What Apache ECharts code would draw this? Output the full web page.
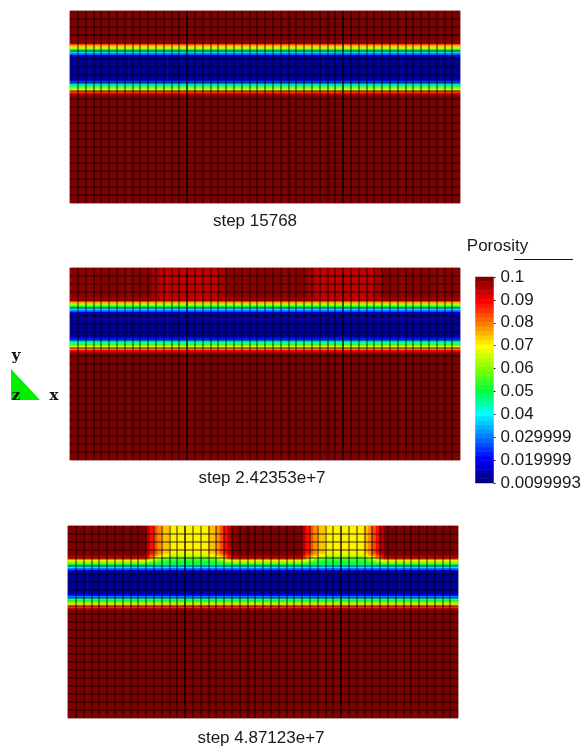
<!DOCTYPE html>
<html><head><meta charset="utf-8">
<style>html,body{margin:0;padding:0;background:#fff}#main{width:582px;height:747px;filter:blur(0.6px)}</style>
<script src="https://cdn.jsdelivr.net/npm/echarts@6/dist/echarts.min.js"></script>
</head><body><div id="main"></div>
<script>
const stepTitles = ['step 15768', 'step 2.42353e+7', 'step 4.87123e+7'];
const colorbarTitle = 'Porosity';
const tickLabels = ['0.0099993','0.019999','0.029999','0.04','0.05','0.06','0.07','0.08','0.09','0.1'];
const heavyColumns = [15, 35];
const colorStops = ['#00007f','#0000ff','#007fff','#00ffff','#00ff40','#80ff00','#ffff00','#ff8000','#ff0000','#7f0000'];
const colorbarLevels = [.01,.012,.014,.016,.018,.02,.022,.024,.026,.028,.03,.032,.034,.036,.038,.04,.042,.044,.046,.048,.05,.052,.054,.056,.058,.06,.062,.064,.066,.068,.07,.072,.074,.076,.078,.08,.082,.084,.086,.088,.09,.092,.094,.096,.098,.1];

// rows are read top to bottom, each one quarter of a mesh cell high
const farField = [.1,.1,.1,.1,.1,.1,.1,.1,.1,.1,.1,.1,.1,.1,.1,.1,.1,.1,.1,.1,.1,.1,.1,.1,.1,.1,.1,.1,.1,.1,.1,.1,.1,.1,.1,.1,.1,.1,.1,.1,.1,.1,.1,.1,.1,.1,.1,.1,.1,.1,.1,.1,.1];

const step1Rows = [.1,.1,.1,.1,.1,.1,.1,.1,.1,.1,.1,.1,.1,.1,.1,.097,.088,.076,.065,.053,.042,.03,.018,.012,.012,.012,.012,.012,.012,.012,.012,.012,.012,.012,.014,.024,.037,.048,.06,.072,.083,.094,.1];
const step2Rows = [.099,.099,.099,.099,.099,.099,.099,.099,.099,.099,.099,.099,.099,.099,.099,.096,.09,.076,.063,.05,.04,.03,.018,.012,.012,.012,.012,.012,.012,.012,.012,.012,.012,.012,.013,.022,.035,.044,.054,.067,.078,.09,.097];
const step2EdgeRows = [.097,.097,.097,.097,.097,.097,.097,.097,.097,.097,.097,.097,.097,.097,.097,.095,.089,.076,.063,.05,.04,.03,.018,.012,.012,.012,.012,.012,.012,.012,.012,.012,.012,.012,.013,.022,.035,.044,.054,.067,.078,.09,.097];
const step2HumpRows = [.095,.095,.095,.095,.095,.095,.095,.095,.095,.095,.095,.095,.095,.095,.095,.094,.088,.076,.063,.05,.04,.03,.018,.012,.012,.012,.012,.012,.012,.012,.012,.012,.012,.012,.013,.022,.035,.044,.054,.067,.078,.09,.097];
const step3Lower = [.012,.012,.012,.012,.012,.012,.012,.012,.012,.012,.013,.018,.03,.04,.05,.062,.074,.085,.095,.1];
const step3Field = [.1,.1,.1,.1,.1,.1,.1,.1,.1,.1,.1,.1,.1,.1,.1,.095,.085,.072,.06,.05,.04,.03,.018];
const step3Dark =  [.095,.095,.095,.095,.095,.095,.095,.095,.095,.095,.095,.095,.095,.095,.093,.088,.08,.069,.058,.049,.04,.03,.018];
const step3Red =   [.089,.089,.089,.089,.089,.089,.089,.089,.089,.089,.089,.089,.089,.089,.086,.08,.074,.066,.056,.048,.04,.03,.018];
const step3Flame = [.084,.084,.084,.084,.084,.084,.084,.084,.084,.084,.084,.084,.084,.084,.08,.075,.069,.062,.054,.047,.04,.03,.018];
const step3Orange =[.079,.079,.079,.079,.079,.079,.079,.079,.079,.079,.079,.079,.079,.079,.076,.07,.064,.058,.052,.047,.04,.03,.018];
const step3Amber = [.075,.075,.075,.075,.075,.075,.075,.075,.075,.075,.075,.075,.075,.075,.071,.066,.06,.055,.05,.046,.04,.03,.018];
const step3Yellow =[.071,.071,.071,.071,.071,.071,.071,.071,.071,.071,.071,.071,.071,.071,.067,.062,.058,.054,.05,.046,.04,.03,.018];

// which row list each half-cell column uses
const step1Columns = [0];
const step2Columns = [0,0,0,0,0,0,0,0,0,0,0,0,0,0,0,0,0,0,0,0,0,1,1,2,2,2,2,2,2,2,2,2,2,2,2,2,2,2,1,1,0,0,0,0,0,0,0,0,0,0,0,0,0,0,0,0,0,0,0,0,0,1,1,2,2,2,2,2,2,2,2,2,2,2,2,2,2,2,1,1,0,0,0,0,0,0,0,0,0,0,0,0,0,0,0,0,0,0,0,0];
const step3Columns = [0,0,0,0,0,0,0,0,0,0,0,0,0,0,0,0,0,0,0,0,1,2,3,4,5,5,6,6,6,6,6,6,6,6,6,6,5,5,4,3,2,1,0,0,0,0,0,0,0,0,0,0,0,0,0,0,0,0,0,0,1,2,3,4,5,5,6,6,6,6,6,6,6,6,6,6,5,4,3,2,1,0,0,0,0,0,0,0,0,0,0,0,0,0,0,0,0,0,0,0];

const panelRowSets = [
  [step1Rows.concat(farField)],
  [step2Rows.concat(farField), step2EdgeRows.concat(farField), step2HumpRows.concat(farField)],
  [step3Field, step3Dark, step3Red, step3Flame, step3Orange, step3Amber, step3Yellow].map(r => r.concat(step3Lower, farField))
];
const panelColumns = [step1Columns, step2Columns, step3Columns];
const meshColumns = 50, meshRows = 24, subColumns = 100, subRows = 96;
const frames = [{left:70,top:11},{left:70,top:268},{left:68,top:526}];
const titleCentres = [[255,213],[262,470],[261,730]];

const grid=[], xAxis=[], yAxis=[], series=[];
const hidden = {show:false};
const seq = n => Array.from({length:n},(_,i)=>i);
frames.forEach((f,p)=>{
  grid.push({left:f.left,top:f.top,width:390,height:192,show:true,borderColor:'#a8a8a8',borderWidth:1,backgroundColor:'transparent'});
  const meshLine = {show:true,showMinLine:false,showMaxLine:false,lineStyle:{color:'rgba(0,0,0,0.4)',width:2}};
  xAxis.push({type:'category',gridIndex:p,data:seq(subColumns),show:false,boundaryGap:true});
  xAxis.push({type:'value',gridIndex:p,min:0,max:meshColumns,interval:1,z:5,axisLine:hidden,axisTick:hidden,axisLabel:hidden,splitLine:meshLine});
  yAxis.push({type:'category',gridIndex:p,data:seq(subRows),inverse:true,show:false,boundaryGap:true});
  yAxis.push({type:'value',gridIndex:p,min:0,max:meshRows,interval:1,z:5,axisLine:hidden,axisTick:hidden,axisLabel:hidden,splitLine:meshLine});
  const rows = panelRowSets[p], cols = panelColumns[p], data=[];
  for(let c=0;c<subColumns;c++){
    const list = rows[cols.length===1?cols[0]:cols[c]];
    for(let r=0;r<subRows;r++) data.push([c,r,list[r]]);
  }
  series.push({type:'heatmap',xAxisIndex:2*p,yAxisIndex:2*p,data,progressive:0,animation:false,silent:true,z:2,itemStyle:{borderWidth:0}});
  heavyColumns.forEach(h=>series.push({type:'line',xAxisIndex:2*p+1,yAxisIndex:2*p+1,data:[[h,0],[h,meshRows]],showSymbol:false,silent:true,animation:false,z:6,lineStyle:{color:'rgba(0,0,0,0.6)',width:1.5}}));
});
// colour bar
grid.push({left:475.5,top:277,width:18,height:206,show:false,outerBoundsMode:'none'});
xAxis.push({type:'category',gridIndex:3,data:[0],show:false});
yAxis.push({type:'category',gridIndex:3,data:colorbarLevels,show:false});
yAxis.push({type:'value',gridIndex:3,min:.01,max:.1,interval:.01,position:'right',
  axisLine:hidden,splitLine:hidden,
  axisTick:{show:true,length:2,lineStyle:{color:'#111',width:1}},
  axisLabel:{show:true,margin:7,color:'#1a1a1a',fontFamily:'Liberation Sans',fontSize:17,padding:[0,0,4,0],
    formatter:v=>tickLabels[Math.round((v-.01)/.01)]}});
series.push({type:'heatmap',xAxisIndex:6,yAxisIndex:6,data:colorbarLevels.map((v,i)=>[0,i,v]),progressive:0,animation:false,silent:true,itemStyle:{borderWidth:0}});

const label = (text,x,y,extra)=>({type:'text',x,y,style:Object.assign({text,fill:'#1a1a1a',font:'17px "Liberation Sans"',align:'center',verticalAlign:'top'},extra||{})});
const triadFont = {font:'bold 15px "DejaVu Serif"',fill:'#111'};
const chart = echarts.init(document.getElementById('main'),null,{renderer:'canvas'});
chart.setOption({
  animation:false,
  backgroundColor:'#fff',
  grid,xAxis,yAxis,series,
  visualMap:{show:false,type:'continuous',min:.01,max:.1,seriesIndex:[0,3,6,9],inRange:{color:colorStops}},
  graphic:[
    ...stepTitles.map((t,i)=>label(t,titleCentres[i][0],titleCentres[i][1])),
    label(colorbarTitle,497.5,238),
    {type:'line',shape:{x1:514,y1:259.5,x2:573,y2:259.5},style:{stroke:'#111',lineWidth:1}},
    {type:'polygon',shape:{points:[[11,369],[11,400],[40,400]]},style:{fill:'#00f000'}},
    label('y',16,349,triadFont),
    label('z',16,389,triadFont),
    label('x',54,389,triadFont)
  ]
});
</script></body></html>
